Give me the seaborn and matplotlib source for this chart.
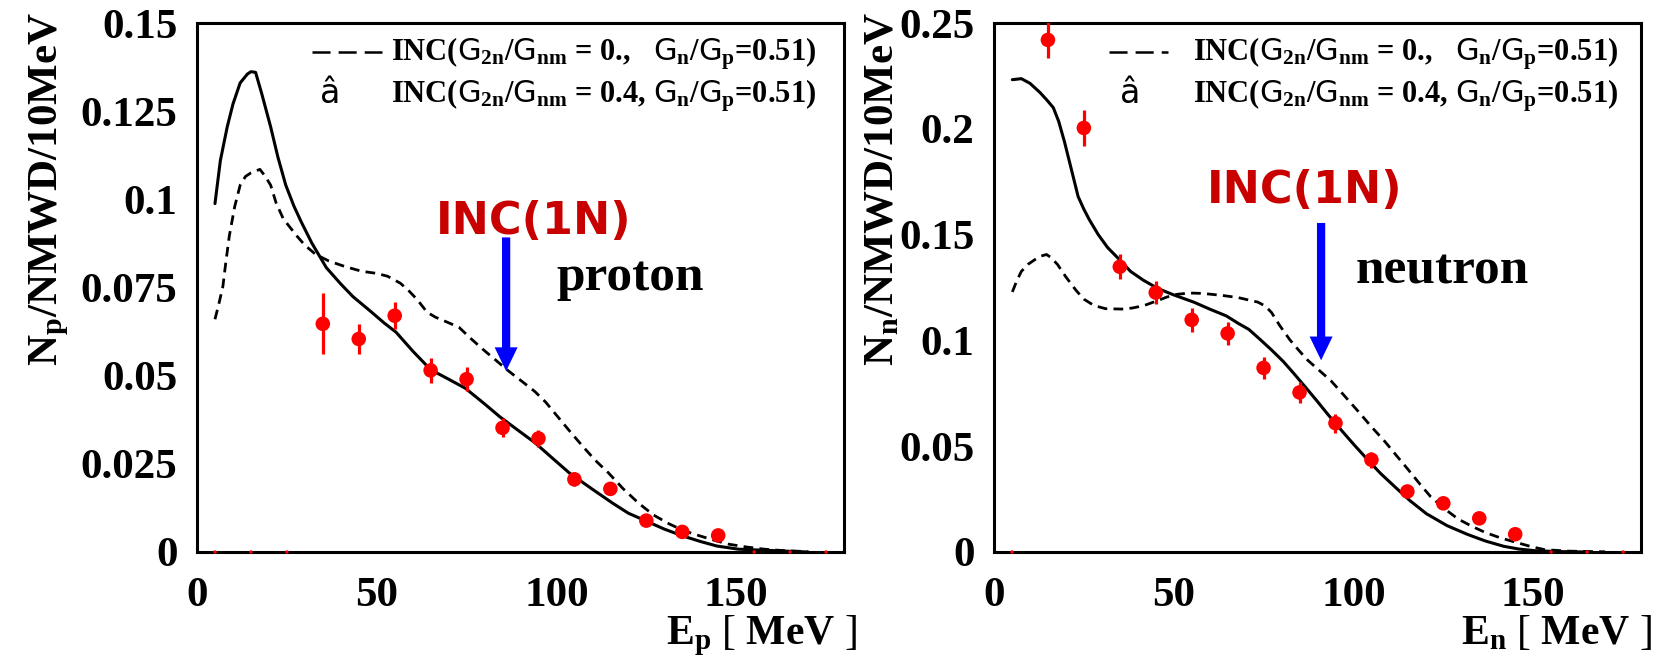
import matplotlib
matplotlib.use("Agg")
import matplotlib.pyplot as plt
import seaborn as sns
import pandas as pd
from matplotlib.lines import Line2D
from matplotlib.ticker import FixedLocator, MultipleLocator

# ---------------- data ----------------
energy_bins = [5, 15, 25, 35, 45, 55, 65, 75, 85, 95, 105, 115, 125, 135, 145, 155, 165, 175]

proton_y = [0, 0, 0, 0.0647, 0.0604, 0.0670, 0.0515, 0.0490, 0.0352, 0.0322, 0.0206, 0.0179,
            0.0089, 0.0057, 0.0047, 0, 0, 0]
proton_err = [0, 0, 0, 0.0086, 0.0042, 0.0038, 0.0035, 0.0034, 0.0027, 0.0025, 0.0020, 0.0015,
              0.0012, 0.0010, 0.0010, 0, 0, 0]

neutron_y = [0, 0.2420, 0.2004, 0.1348, 0.1226, 0.1097, 0.1033, 0.0870, 0.0754, 0.0609, 0.0436,
             0.0286, 0.0230, 0.0159, 0.0084, 0, 0, 0]
neutron_err = [0, 0.0085, 0.0084, 0.0060, 0.0056, 0.0055, 0.0055, 0.0052, 0.0050, 0.0045, 0.0038,
               0.0030, 0.0025, 0.0020, 0.0020, 0, 0, 0]

# INC(G2n/Gnm = 0.4) -- solid, proton
p_solid_x = [5, 6.5, 8.4, 10, 12, 14, 15, 16.3, 18, 20.5, 22.5, 24.7, 27, 29, 32, 36, 40, 43.4, 48,
             52, 55.4, 60, 65, 70, 74.7, 80, 84.3, 90, 94, 99, 103.6, 110, 115.7, 120, 124.7, 130,
             135, 140, 144.6, 150.6, 157.8, 165, 170]
p_solid_y = [0.0988, 0.111, 0.1205, 0.127, 0.133, 0.1355, 0.1362, 0.136, 0.130, 0.1205, 0.112,
             0.104, 0.098, 0.0936, 0.0875, 0.0806, 0.076, 0.0724, 0.0685, 0.065, 0.0623, 0.057,
             0.0517, 0.049, 0.0464, 0.042, 0.0383, 0.034, 0.031, 0.0265, 0.0224, 0.0178, 0.0138,
             0.011, 0.0089, 0.0065, 0.0046, 0.003, 0.0017, 0.0008, 0.0005, 0.0002, 0.0]

# INC(G2n/Gnm = 0.) -- dashed, proton
p_dash_x = [5, 6, 7.2, 8, 9, 10.5, 12, 13.5, 15, 17.5, 19, 20.5, 22, 24, 27.7, 30, 33, 36.7, 41,
            45.8, 50, 53, 56.6, 59, 61.4, 64, 66.3, 70, 72.9, 76, 79.5, 83, 86.7, 90, 94, 97, 100,
            103.5, 107.2, 110.8, 114.5, 118.5, 122.9, 127, 131.3, 135.5, 139.8, 144, 148, 153,
            157.8, 163, 170]
p_dash_y = [0.066, 0.070, 0.0753, 0.082, 0.0897, 0.098, 0.104, 0.1065, 0.1075, 0.1085, 0.1065,
            0.104, 0.099, 0.0945, 0.0897, 0.087, 0.0844, 0.0825, 0.081, 0.0796, 0.079, 0.0782,
            0.0762, 0.074, 0.0714, 0.068, 0.0666, 0.065, 0.0637, 0.0607, 0.0575, 0.0545, 0.0513,
            0.0487, 0.0455, 0.0425, 0.0388, 0.0345, 0.0301, 0.026, 0.0224, 0.018, 0.0138, 0.0105,
            0.008, 0.006, 0.0046, 0.0033, 0.0022, 0.0014, 0.0008, 0.0004, 0.0001]

# solid, neutron
n_solid_x = [5.1, 7.6, 10, 12.7, 14.5, 16.5, 18, 19.6, 21.5, 23.4, 25, 26.6, 29, 31.6, 35, 38,
             41.5, 45.6, 50, 55.7, 60, 64.6, 68, 70.9, 74, 77.2, 80.5, 83.5, 86.7, 89.9, 93, 96.2,
             100, 103.8, 107.5, 111.4, 115.7, 120.3, 126, 131.6, 136.7, 141.8, 146, 150.6, 157, 165]
n_solid_y = [0.2232, 0.2237, 0.2215, 0.2173, 0.214, 0.21, 0.2035, 0.1939, 0.181, 0.168, 0.162,
             0.1568, 0.150, 0.1439, 0.138, 0.1326, 0.1285, 0.1245, 0.1215, 0.118, 0.1148, 0.1116,
             0.108, 0.1052, 0.1005, 0.0955, 0.090, 0.0842, 0.0778, 0.0713, 0.0648, 0.0584, 0.051,
             0.0439, 0.0372, 0.031, 0.0243, 0.0181, 0.0125, 0.0084, 0.0052, 0.0027, 0.0014,
             0.0006, 0.0002, 0.0]

# dashed, neutron
n_dash_x = [5.1, 6.3, 7.6, 9.5, 11.4, 13, 14.6, 16, 17.7, 20, 22.8, 25, 27.8, 31, 35.4, 38.5, 41.8,
            45, 48.1, 51, 54.4, 58, 63.3, 68, 73.4, 75.5, 77.2, 79.5, 82.3, 84.8, 87.3, 90.5, 93.7,
            97.5, 101.3, 105, 108.9, 112, 115.2, 118.3, 121.5, 125.3, 129.1, 132.9, 136.7, 141,
            145.6, 149.5, 153.2, 160, 170]
n_dash_y = [0.1229, 0.128, 0.1326, 0.136, 0.1382, 0.1398, 0.1406, 0.139, 0.1358, 0.130, 0.1237,
            0.1195, 0.1165, 0.115, 0.1148, 0.1153, 0.1165, 0.1185, 0.1205, 0.1218, 0.1224, 0.1222,
            0.1213, 0.1202, 0.1181, 0.1162, 0.1132, 0.107, 0.1003, 0.0953, 0.0906, 0.0858, 0.081,
            0.0738, 0.0665, 0.0592, 0.0519, 0.0455, 0.039, 0.0325, 0.0261, 0.0205, 0.0156, 0.0122,
            0.0092, 0.0066, 0.0044, 0.0025, 0.0011, 0.0004, 0.0001]

x_ticks = [0, 50, 100, 150]
x_tick_labels = ["0", "50", "100", "150"]
p_yticks = [0, 0.025, 0.05, 0.075, 0.1, 0.125, 0.15]
p_ytick_labels = ["0", "0.025", "0.05", "0.075", "0.1", "0.125", "0.15"]
n_yticks = [0, 0.05, 0.1, 0.15, 0.2, 0.25]
n_ytick_labels = ["0", "0.05", "0.1", "0.15", "0.2", "0.25"]

legend_line1 = r'INC($\mathsf{G}_{2n}$/$\mathsf{G}_{nm}$ = 0.,   $\mathsf{G}_{n}$/$\mathsf{G}_{p}$=0.51)'
legend_line2 = r'INC($\mathsf{G}_{2n}$/$\mathsf{G}_{nm}$ = 0.4, $\mathsf{G}_{n}$/$\mathsf{G}_{p}$=0.51)'
xlabel_p = r'E$_{p}$ $\mathtt{[}$ MeV $\mathtt{]}$'
xlabel_n = r'E$_{n}$ $\mathtt{[}$ MeV $\mathtt{]}$'

# ---------------- style ----------------
sns.set_style("white")
plt.rcParams.update({
    'font.family': ['Liberation Serif', 'DejaVu Serif'],
    'font.weight': 'bold',
    'text.color': 'black',
    'xtick.color': 'black',
    'ytick.color': 'black',
    'mathtext.fontset': 'custom',
    'mathtext.rm': 'Liberation Serif:bold',
    'mathtext.it': 'Liberation Serif:bold',
    'mathtext.bf': 'Liberation Serif:bold',
    'mathtext.sf': 'DejaVu Sans:weight=normal',
    'mathtext.tt': 'Liberation Serif:weight=normal',
    'lines.scale_dashes': False,
})

W, H = 1657, 661
fig = plt.figure(figsize=(W / 100, H / 100), dpi=100)
fig.patch.set_facecolor('white')


def px_axes(l, t, r, b):
    return fig.add_axes([l / W, 1 - b / H, (r - l) / W, (b - t) / H])


axL = px_axes(197, 23, 844, 552)
axR = px_axes(994, 23, 1641, 552)


def draw_panel(ax, yv, ev, sx, sy, dx, dy, ymax, yticks, ylabels, yminor):
    df = pd.DataFrame({'E': energy_bins, 'N': yv, 'err': ev})
    nz = df[df.N > 0]
    z = df[df.N == 0]
    sns.lineplot(x=dx, y=dy, ax=ax, color='black', lw=2.0, linestyle=(0, (7, 4.5)),
                 estimator=None, sort=False)
    sns.lineplot(x=sx, y=sy, ax=ax, color='black', lw=2.2, estimator=None, sort=False)
    ax.errorbar(nz.E, nz.N, yerr=nz.err, fmt='none', ecolor='#ff0000', elinewidth=2.3,
                capsize=0, zorder=3)
    sns.scatterplot(data=nz, x='E', y='N', ax=ax, color='#ff0000', s=110, edgecolor='none',
                    zorder=4)
    sns.scatterplot(data=z, x='E', y='N', ax=ax, color='#ff0000', s=6, edgecolor='none',
                    zorder=4, clip_on=False)
    ax.set_xlim(0, 180)
    ax.set_ylim(0, ymax)
    ax.xaxis.set_major_locator(FixedLocator(x_ticks))
    ax.set_xticklabels(x_tick_labels)
    ax.xaxis.set_minor_locator(MultipleLocator(10))
    ax.yaxis.set_major_locator(FixedLocator(yticks))
    ax.set_yticklabels(ylabels)
    ax.yaxis.set_minor_locator(MultipleLocator(yminor))
    ax.tick_params(which='both', direction='in', top=False, right=False, color='#333333',
                   labelcolor='black', width=1.2, labelsize=31)
    ax.tick_params(axis='x', which='major', length=13, pad=18)
    ax.tick_params(axis='x', which='minor', length=6.5)
    ax.tick_params(axis='y', which='major', length=19, pad=14)
    ax.tick_params(axis='y', which='minor', length=10)
    for s in ax.spines.values():
        s.set_linewidth(2.2)
        s.set_color('black')
        s.set_visible(True)
    ax.set_xlabel('')
    ax.set_ylabel('')
    ax.set_facecolor('white')


draw_panel(axL, proton_y, proton_err, p_solid_x, p_solid_y, p_dash_x, p_dash_y,
           0.15, p_yticks, p_ytick_labels, 0.005)
draw_panel(axR, neutron_y, neutron_err, n_solid_x, n_solid_y, n_dash_x, n_dash_y,
           0.25, n_yticks, n_ytick_labels, 0.01)

arrow_style = 'simple,head_length=0.95,head_width=0.92,tail_width=0.33'
axL.annotate('', xy=(86, 0.0513), xytext=(86, 0.0892),
             arrowprops=dict(arrowstyle=arrow_style, color='#0000ff', shrinkA=0, shrinkB=0,
                             mutation_scale=18, lw=0))
axR.annotate('', xy=(91, 0.0906), xytext=(91, 0.1555),
             arrowprops=dict(arrowstyle=arrow_style, color='#0000ff', shrinkA=0, shrinkB=0,
                             mutation_scale=18, lw=0))

axL.text(93.6, 0.0903, 'INC(1N)', color='#c80000', fontsize=32, family='DejaVu Sans',
         fontweight='bold', ha='center', va='baseline')
axR.text(86.5, 0.1651, 'INC(1N)', color='#c80000', fontsize=32, family='DejaVu Sans',
         fontweight='bold', ha='center', va='baseline')
axL.text(120.5, 0.0744, 'proton', fontsize=37, color='black', ha='center', va='baseline')
axR.text(124.7, 0.1271, 'neutron', fontsize=37, color='black', ha='center', va='baseline')

# axis titles
fig.text(49 / W, 1 - 12 / H, r'N$_{p}$/NMWD/10MeV', rotation=90, ha='center', va='top',
         fontsize=31, color='black')
fig.text(883 / W, 1 - 12 / H, r'N$_{n}$/NMWD/10MeV', rotation=90, ha='center', va='top',
         fontsize=31, color='black')
fig.text(857 / W, 1 - 644 / H, xlabel_p, ha='right', va='baseline', fontsize=30,
         color='black')
fig.text(1652 / W, 1 - 644 / H, xlabel_n, ha='right', va='baseline', fontsize=30,
         color='black')

# legends
for (d0, d1, tx, ax_) in [(312, 382, 391, 330), (1109, 1168, 1193, 1130)]:
    fig.add_artist(Line2D([d0 / W, d1 / W], [1 - 52 / H, 1 - 52 / H], transform=fig.transFigure,
                          color='black', lw=1.8, linestyle=(0, (13, 5.8))))
    fig.text(tx / W, 1 - 60 / H, legend_line1, ha='left', va='baseline', fontsize=22,
             color='black')
    fig.text(tx / W, 1 - 103 / H, legend_line2, ha='left', va='baseline', fontsize=22,
             color='black')
    fig.text(ax_ / W, 1 - 103 / H, 'â', ha='center', va='baseline', fontsize=24,
             family='DejaVu Sans', fontweight='normal', color='black')

fig.savefig('out.png', dpi=100, facecolor='white')
